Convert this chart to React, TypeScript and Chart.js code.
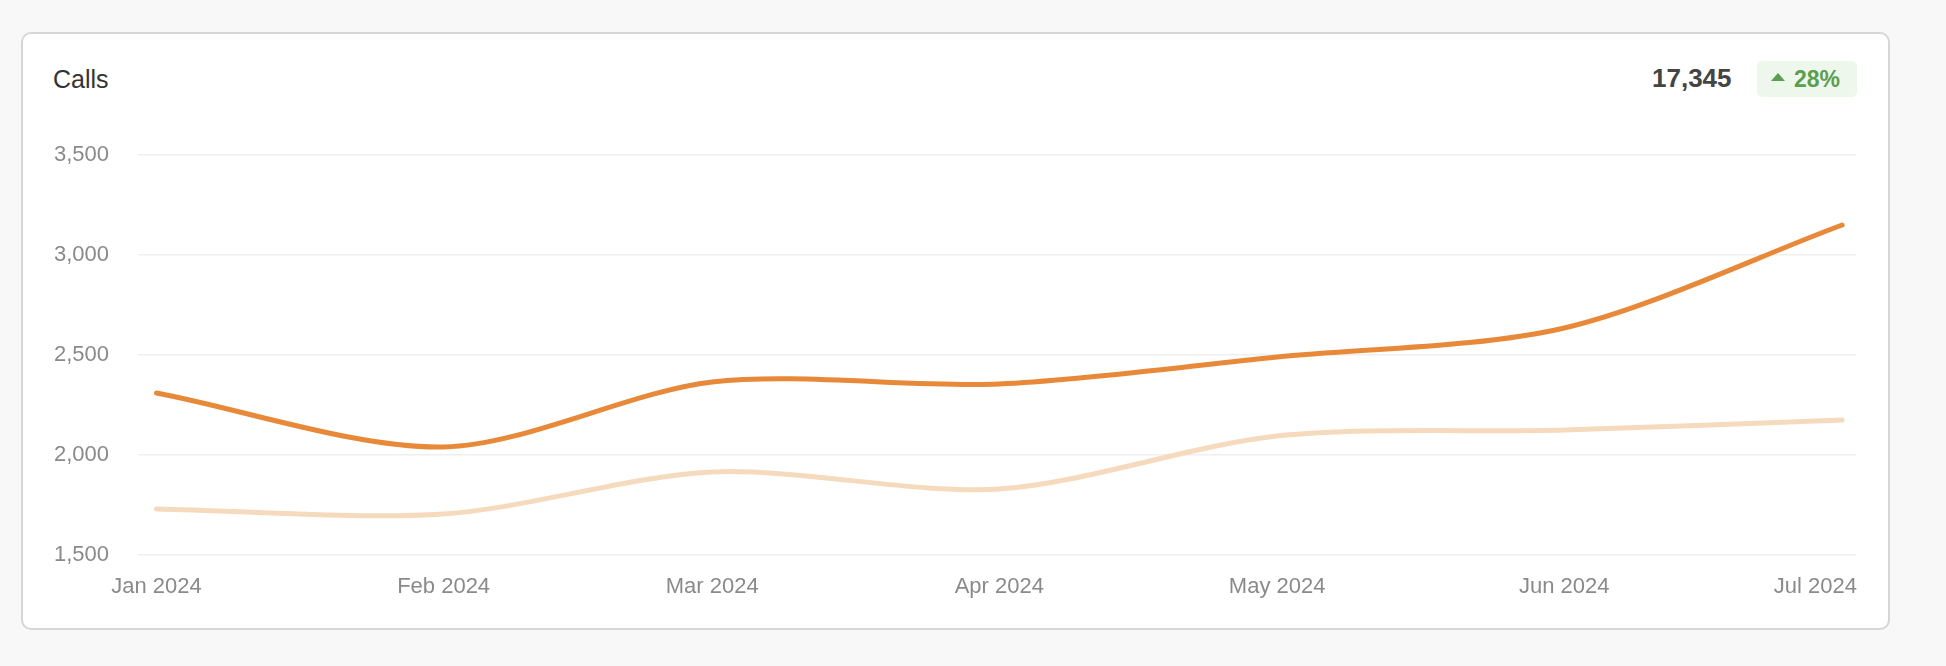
import React, { useEffect, useRef } from "react";
import { Chart, registerables } from "chart.js";

Chart.register(...registerables);

const title = "Calls";
const totalValue = "17,345";
const changeText = "28%";

const monthLabels = ["Jan 2024", "Feb 2024", "Mar 2024", "Apr 2024", "May 2024", "Jun 2024", "Jul 2024"];
const monthIndex = [0, 1, 2, 3, 4, 5, 6];
const currentSeries = [2310, 2040, 2365, 2355, 2490, 2635, 3150];
const previousSeries = [1730, 1705, 1915, 1830, 2095, 2125, 2175];
const yTicks = [1500, 2000, 2500, 3000, 3500];

const dayOffset = (m: number) => (Date.UTC(2024, m, 1) - Date.UTC(2024, 0, 1)) / 86400000;
const monthDays = monthIndex.map(dayOffset);

const FONT = 'Helvetica, "Liberation Sans", Arial, sans-serif';

const xLabelPlugin = {
  id: "xLabels",
  afterDraw(chart: any) {
    const { ctx, chartArea } = chart;
    const xs = chart.scales.x;
    ctx.save();
    ctx.font = `22px ${FONT}`;
    ctx.fillStyle = "#8a8a8a";
    ctx.textBaseline = "alphabetic";
    ctx.textAlign = "left";
    monthLabels.forEach((lab, i) => {
      const px = xs.getPixelForValue(monthDays[i]);
      const w = ctx.measureText(lab).width;
      let x = px - w / 2;
      if (x + w > chartArea.right + 1) x = chartArea.right + 1 - w;
      ctx.fillText(lab, x, chartArea.bottom + 38);
    });
    ctx.restore();
  },
};

export default function App() {
  const ref = useRef<HTMLCanvasElement>(null);
  useEffect(() => {
    if (!ref.current) return;
    const chart = new Chart(ref.current, {
      type: "line",
      data: {
        datasets: [
          {
            label: "Current",
            data: currentSeries.map((v, i) => ({ x: monthDays[i], y: v })),
            borderColor: "#e8893a",
            borderWidth: 5,
            pointRadius: 0,
            tension: 0.3,
            fill: false,
            borderCapStyle: "round",
          },
          {
            label: "Previous",
            data: previousSeries.map((v, i) => ({ x: monthDays[i], y: v })),
            borderColor: "#f6dabd",
            borderWidth: 5,
            pointRadius: 0,
            tension: 0.3,
            fill: false,
            borderCapStyle: "round",
          },
        ],
      },
      options: {
        animation: false,
        responsive: false,
        maintainAspectRatio: false,
        layout: { padding: { left: 14, right: 24, top: 25, bottom: 65 } },
        plugins: { legend: { display: false }, tooltip: { enabled: false } },
        scales: {
          x: {
            type: "linear",
            display: false,
            min: -2,
            max: 183.5,
          },
          y: {
            min: yTicks[0],
            max: yTicks[yTicks.length - 1],
            afterBuildTicks: (scale: any) => {
              scale.ticks = yTicks.map((v) => ({ value: v }));
            },
            afterFit: (scale: any) => {
              scale.width = 84;
            },
            border: { display: false },
            grid: { color: "#efefef", lineWidth: 1.5, drawTicks: false },
            ticks: {
              padding: 0,
              crossAlign: "far",
              color: "#8a8a8a",
              font: { family: FONT, size: 22 },
              callback: (v: any) => Number(v).toLocaleString("en-US"),
            },
          },
        },
      },
      plugins: [xLabelPlugin],
    });
    return () => chart.destroy();
  }, []);

  return (
    <div style={{ position: "relative", width: 1946, height: 666, background: "#f8f8f8", fontFamily: FONT }}>
      <style>{"body{margin:0;}"}</style>
      <div
        style={{
          position: "absolute",
          left: 21,
          top: 32,
          width: 1869,
          height: 598,
          boxSizing: "border-box",
          border: "2px solid #d6d6d6",
          borderRadius: 10,
          background: "#ffffff",
        }}
      />
      <div style={{ position: "absolute", left: 53, top: 64, fontSize: 25, lineHeight: "30px", color: "#333" }}>{title}</div>
      <div style={{ position: "absolute", left: 1652, top: 62, fontSize: 26, lineHeight: "32px", fontWeight: 700, color: "#444" }}>
        {totalValue}
      </div>
      <div
        style={{
          position: "absolute",
          left: 1757,
          top: 61,
          width: 100,
          height: 36,
          borderRadius: 5,
          background: "#eef7ec",
          color: "#5a9e4f",
          fontWeight: 700,
          fontSize: 23,
          lineHeight: "36px",
          boxSizing: "border-box",
          paddingLeft: 14,
          display: "flex",
          alignItems: "center",
        }}
      >
        <span
          style={{
            display: "inline-block",
            width: 0,
            height: 0,
            borderLeft: "7px solid transparent",
            borderRight: "7px solid transparent",
            borderBottom: "8px solid #5a9e4f",
            marginRight: 9,
            marginTop: -4,
          }}
        />
        <span>{changeText}</span>
      </div>
      <canvas ref={ref} width={1840} height={490} style={{ position: "absolute", left: 40, top: 130, width: 1840, height: 490 }} />
    </div>
  );
}
